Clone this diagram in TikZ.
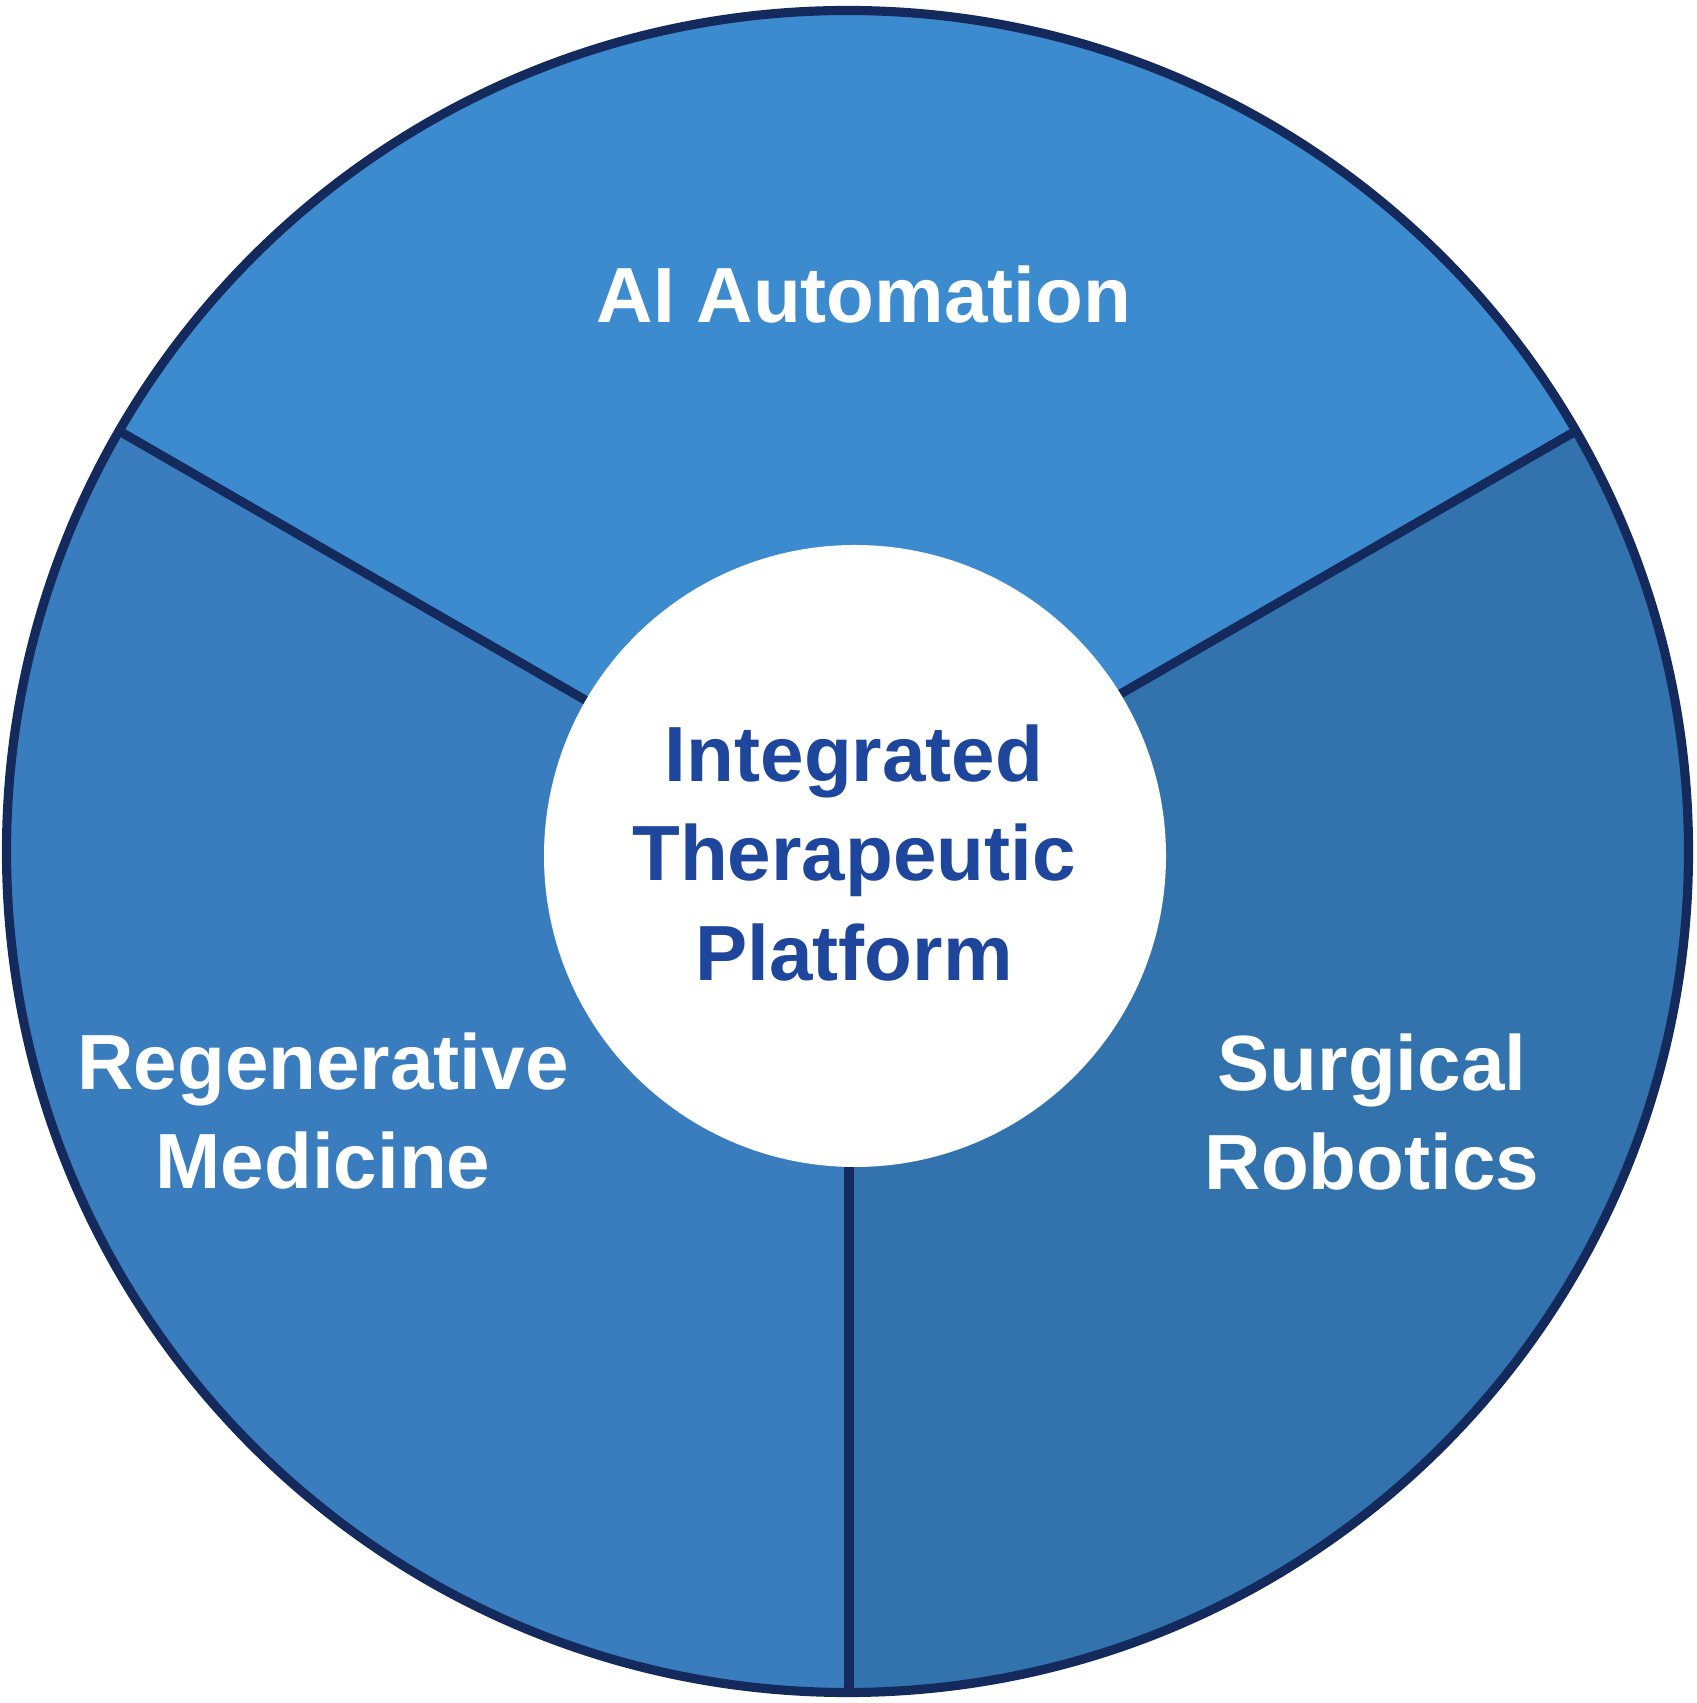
\documentclass[tikz,border=0pt]{standalone}
\usepackage{fontspec}
\setmainfont{Liberation Sans}
\usetikzlibrary{calc}
\definecolor{topblue}{HTML}{3D8BCF}
\definecolor{leftblue}{HTML}{3A7DBE}
\definecolor{rightblue}{HTML}{3273AE}
\definecolor{rimnavy}{HTML}{14295C}
\definecolor{hubnavy}{HTML}{1D469C}

\begin{document}
\begin{tikzpicture}[
    x=0.01cm,
    y=0.01cm,
    line cap=round,
    line join=round,
    divider/.style={draw=rimnavy, line width=2.6pt},
    rim/.style={draw=rimnavy, line width=2.6pt},
    sector text/.style={text=white, align=center,
        font=\fontsize{22.25}{28.2}\selectfont\bfseries},
    hub text/.style={sector text, text=hubnavy}
]

\useasboundingbox (0,0) rectangle (1697,1703);

% -------------------------------------------------
% Wheel geometry
% -------------------------------------------------

\coordinate (O) at (847.5,851.5);
\coordinate (H) at (855,847);

% Top sector
\fill[topblue]
    (O) -- ++(30:843)
    arc[start angle=30, end angle=150, radius=843]
    -- cycle;

% Left sector
\fill[leftblue]
    (O) -- ++(150:843)
    arc[start angle=150, end angle=270, radius=843]
    -- cycle;

% Right sector
\fill[rightblue]
    (O) -- ++(270:843)
    arc[start angle=270, end angle=390, radius=843]
    -- cycle;

% Dividers between the sectors
\coordinate (DL) at ($(O)+(150:841)$);
\coordinate (DR) at ($(O)+(30:841)$);
\coordinate (DB) at (849,11);

\draw[divider] (O) -- (DL);
\draw[divider] (O) -- (DR);
\draw[divider] (849,851.5) -- (DB);

% Outer rim
\draw[rim] (O) circle (841);

% -------------------------------------------------
% Hub
% -------------------------------------------------

\fill[white] (H) circle (311);

% -------------------------------------------------
% Texts
% -------------------------------------------------

\node[sector text, anchor=base] (ai) at (864,1380) {AI Automation};

\node[hub text] (hub) at (854,850)
    {Integrated\\Therapeutic\\Platform};

\node[sector text] (regen) at (323,592)
    {Regenerative\\Medicine};

\node[sector text] (robot) at (1372,591)
    {Surgical\\Robotics};

\end{tikzpicture}
\end{document}
